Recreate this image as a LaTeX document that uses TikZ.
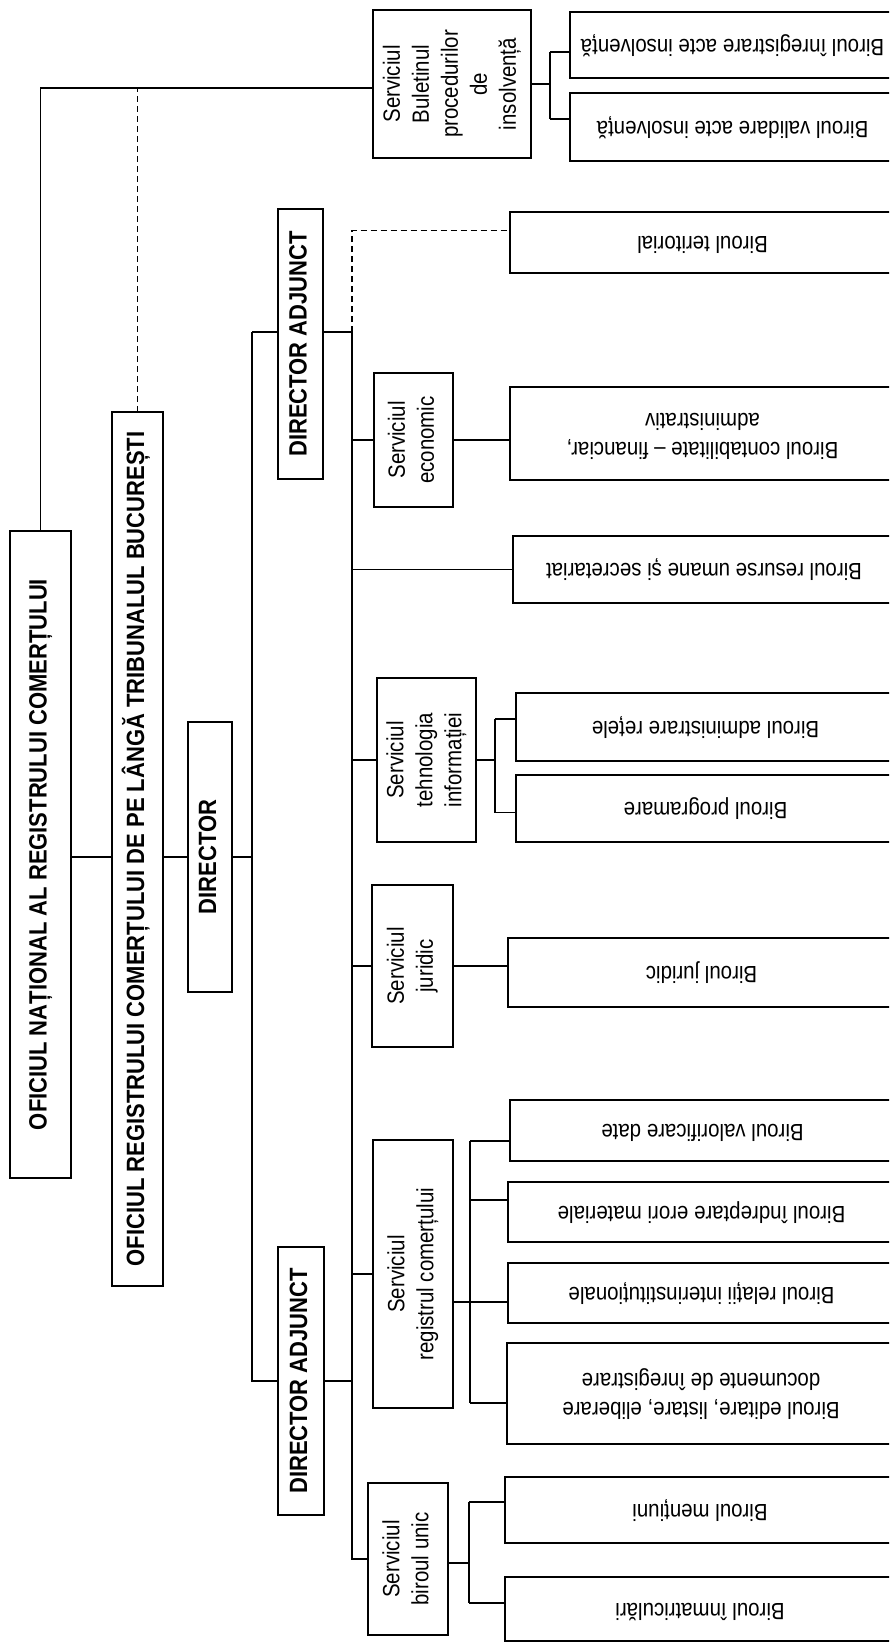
\documentclass[tikz,border=0pt]{standalone}
\usepackage{fontspec}
\usepackage{graphicx}
\setmainfont{Liberation Sans}
\newfontfamily\rf{Liberation Sans}[FakeStretch=0.87]
\newfontfamily\hb{Liberation Sans}[FakeStretch=0.88]
\newcommand\vtxt[1]{\rotatebox{90}{\begin{tabular}{@{}c@{}}#1\end{tabular}}}
\newcommand\utxt[1]{\rotatebox{180}{\begin{tabular}{@{}c@{}}#1\end{tabular}}}
\usetikzlibrary{calc}
\begin{document}
\begin{tikzpicture}[x=1pt,y=-1pt,
  box/.style={draw, line width=1.7pt, inner sep=0pt, outer sep=0pt, font=\rf\fontsize{23.5}{29}\selectfont},
  hbox/.style={box, font=\hb\bfseries\fontsize{25}{30}\selectfont},
  conn/.style={line width=1.6pt},
  dconn/.style={conn, dash pattern=on 6pt off 4pt}]
\useasboundingbox (0,0) rectangle (889,1643);
\fill[white] (0,0) rectangle (889,1643);
\clip (0,0) rectangle (889,1643);

% left column
\node[hbox, minimum width=61pt, minimum height=647pt] (onrc) at (40.5,854.5) {\vtxt{OFICIUL NAȚIONAL AL REGISTRULUI COMERȚULUI}};
\node[hbox, minimum width=51pt, minimum height=874pt] (orc) at (137.5,849) {\vtxt{OFICIUL REGISTRULUI COMERȚULUI DE PE LÂNGĂ TRIBUNALUL BUCUREȘTI}};
\node[hbox, minimum width=44pt, minimum height=270pt] (dir) at (210,857) {\vtxt{DIRECTOR}};
\node[hbox, minimum width=45pt, minimum height=270pt] (da1) at (300.5,344) {\vtxt{DIRECTOR ADJUNCT}};
\node[hbox, minimum width=46pt, minimum height=268pt] (da2) at (301,1381) {\vtxt{DIRECTOR ADJUNCT}};

% services
\node[box, minimum width=158pt, minimum height=148pt] (sbp) at (452,84) {\vtxt{Serviciul\\Buletinul\\procedurilor\\de\\insolvență}};
\node[box, minimum width=79pt, minimum height=134pt] (secon) at (413.5,440) {\vtxt{Serviciul\\economic}};
\node[box, minimum width=99pt, minimum height=164pt] (sti) at (426.5,760) {\vtxt{Serviciul\\tehnologia\\informației}};
\node[box, minimum width=81pt, minimum height=162pt] (sjur) at (412.5,966) {\vtxt{Serviciul\\juridic}};
\node[box, minimum width=80pt, minimum height=268pt] (src) at (413,1274) {\vtxt{Serviciul\\registrul comerțului}};
\node[box, minimum width=80pt, minimum height=152pt] (sbu) at (408,1559) {\vtxt{Serviciul\\biroul unic}};

% offices
\node[box, minimum width=325pt, minimum height=66pt] (bia) at (732.5,45) {\utxt{Biroul înregistrare acte insolvență}};
\node[box, minimum width=325pt, minimum height=68pt] (bva) at (732.5,127) {\utxt{Biroul validare acte insolvență}};
\node[box, minimum width=385pt, minimum height=61pt] (bter) at (702.5,242.5) {\utxt{Biroul teritorial}};
\node[box, minimum width=385pt, minimum height=93pt] (bcont) at (702.5,433.5) {\utxt{Biroul contabilitate – financiar,\\administrativ}};
\node[box, minimum width=382pt, minimum height=67pt] (bres) at (704,569.5) {\utxt{Biroul resurse umane și secretariat}};
\node[box, minimum width=379pt, minimum height=68pt] (badm) at (705.5,727) {\utxt{Biroul administrare rețele}};
\node[box, minimum width=379pt, minimum height=67pt] (bprog) at (705.5,808.5) {\utxt{Biroul programare}};
\node[box, minimum width=387pt, minimum height=69pt] (bjur) at (701.5,972.5) {\utxt{Biroul juridic}};
\node[box, minimum width=385pt, minimum height=61pt] (bval) at (702.5,1130.5) {\utxt{Biroul valorificare date}};
\node[box, minimum width=387pt, minimum height=60pt] (bindr) at (701.5,1212) {\utxt{Biroul îndreptare erori materiale}};
\node[box, minimum width=387pt, minimum height=60pt] (brel) at (701.5,1293) {\utxt{Biroul relații interinstituționale}};
\node[box, minimum width=388pt, minimum height=101pt] (bedit) at (701,1393.5) {\utxt{Biroul editare, listare, eliberare\\documente de înregistrare}};
\node[box, minimum width=390pt, minimum height=66pt] (bment) at (700,1510) {\utxt{Biroul mențiuni}};
\node[box, minimum width=390pt, minimum height=64pt] (binm) at (700,1609) {\utxt{Biroul înmatriculări}};

% helper coordinates
\coordinate (bx) at (352,332);
\coordinate (dv) at (252,857);
\coordinate (sbpin) at ([yshift=-4pt]sbp.west);
\coordinate (da1in) at ([yshift=12pt]da1.west);
\coordinate (da1out) at ([yshift=12pt]da1.east);
\coordinate (terin) at ([yshift=12pt]bter.west);

% top level
\draw[conn] (onrc.north) |- (sbpin);
\draw[dconn] (orc.north) -- (orc.north |- sbpin);
\draw[conn] (onrc.east |- dir.west) -- (orc.west |- dir.west);
\draw[conn] (orc.east |- dir.west) -- (dir.west);
\draw[conn] (dir.east) -- (dv);
\draw[conn] (dv |- da1in) -- (da1in);
\draw[conn] (dv |- da1in) -- (dv |- da2.west) -- (da2.west);
\draw[conn] (da1out) -- (bx);
\draw[dconn] (bx) |- (terin);
\draw[conn] (bx) -- (bx |- sbu.west) -- (sbu.west);
\draw[conn] (da2.east) -- (bx |- da2.east);
\foreach \n in {secon,bres,sti,sjur,src} \draw[conn] (bx |- \n.west) -- (\n.west);

% Buletinul
\coordinate (j1) at (550,84);
\coordinate (biain) at ([yshift=-7pt]bia.west);
\coordinate (bvain) at ([yshift=8pt]bva.west);
\draw[conn] (sbp.east) -- (sbp.east -| j1);
\draw[conn] (j1 |- biain) -- (j1 |- bvain);
\draw[conn] (j1 |- biain) -- (biain);
\draw[conn] (j1 |- bvain) -- (bvain);

% economic
\draw[conn] (secon.east) -- (secon.east -| bcont.west);

% tehnologia
\coordinate (j2) at (495,760);
\coordinate (badmin) at ([yshift=8pt]badm.west);
\coordinate (bprogin) at ([yshift=-4pt]bprog.west);
\draw[conn] (sti.east) -- (sti.east -| j2);
\draw[conn] (j2 |- badmin) -- (j2 |- bprogin);
\draw[conn] (j2 |- badmin) -- (badmin);
\draw[conn] (j2 |- bprogin) -- (bprogin);

% juridic
\draw[conn] (sjur.east) -- (sjur.east -| bjur.west);

% registrul
\coordinate (j3) at (470,1302);
\coordinate (srcout) at ([yshift=-28pt]src.east);
\coordinate (bvalin) at ([yshift=-10.5pt]bval.west);
\coordinate (bindrin) at ([yshift=12pt]bindr.west);
\coordinate (brelin) at ([yshift=-9pt]brel.west);
\coordinate (beditin) at ([yshift=-9.5pt]bedit.west);
\draw[conn] (srcout) -- (j3 |- srcout);
\draw[conn] (j3 |- bvalin) -- (j3 |- beditin);
\foreach \c in {bvalin,bindrin,brelin,beditin} \draw[conn] (j3 |- \c) -- (\c);

% birou unic
\coordinate (j4) at (469,1563);
\coordinate (sbuout) at ([yshift=-4pt]sbu.east);
\coordinate (bmentin) at ([yshift=8pt]bment.west);
\coordinate (binmin) at ([yshift=6pt]binm.west);
\draw[conn] (sbuout) -- (j4 |- sbuout);
\draw[conn] (j4 |- bmentin) -- (j4 |- binmin);
\draw[conn] (j4 |- bmentin) -- (bmentin);
\draw[conn] (j4 |- binmin) -- (binmin);
\end{tikzpicture}
\end{document}
